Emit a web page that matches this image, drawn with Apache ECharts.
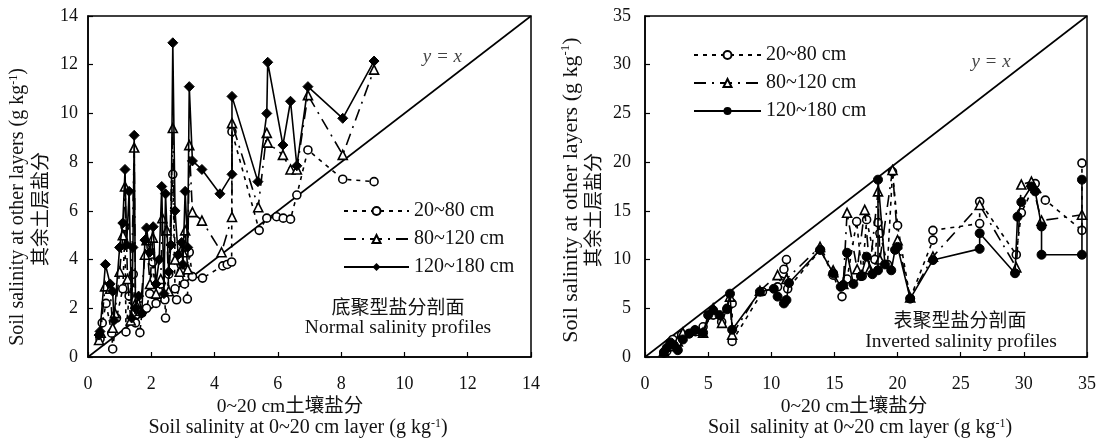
<!DOCTYPE html>
<html><head><meta charset="utf-8">
<script src="https://cdn.jsdelivr.net/npm/echarts@6/dist/echarts.min.js"></script>
<style>html,body{margin:0;padding:0;background:#fff}#c{width:1101px;height:443px}</style>
</head><body><div id="c"></div>
<script>
// ---- Left panel (Normal salinity profiles): [topsoil 0~20 cm, other layer] ----
const leftL20_80 = [[0.38,0.74],[0.45,1.4],[0.57,2.2],[0.75,0.98],[0.78,0.33],[0.9,1.6],[1.1,2.8],[1.17,5.35],[1.2,1.03],[1.3,2.5],[1.43,3.4],[1.5,1.4],[1.64,1.0],[1.7,1.8],[1.85,2.0],[1.95,2.6],[2.05,3.9],[2.15,2.2],[2.3,3.0],[2.43,2.35],[2.45,1.6],[2.55,3.4],[2.68,7.5],[2.75,2.8],[2.8,2.35],[2.95,3.5],[3.05,3.0],[3.14,2.38],[3.2,4.3],[3.3,3.3],[3.62,3.24],[4.26,3.74],[4.4,3.8],[4.54,3.9],[4.55,9.25],[5.41,5.2],[5.65,5.7],[5.96,5.76],[6.17,5.7],[6.4,5.66],[6.6,6.65],[6.95,8.5],[8.05,7.3],[9.04,7.2]];
const leftL80_120 = [[0.35,0.7],[0.4,1.0],[0.54,2.9],[0.7,2.8],[0.78,1.2],[0.85,1.8],[1.0,3.5],[1.1,5.0],[1.17,7.0],[1.25,3.2],[1.35,1.5],[1.46,8.6],[1.5,2.2],[1.65,1.9],[1.8,4.2],[1.85,4.8],[1.96,3.0],[2.05,4.9],[2.15,2.6],[2.3,3.2],[2.35,5.7],[2.49,5.2],[2.55,2.7],[2.68,9.4],[2.75,4.0],[2.9,3.5],[3.0,4.3],[3.07,5.2],[3.15,3.6],[3.2,8.7],[3.3,5.95],[3.6,5.6],[4.22,4.3],[4.55,5.75],[4.55,9.6],[5.38,6.15],[5.65,9.2],[5.68,8.8],[6.16,8.3],[6.4,7.7],[6.6,7.7],[6.95,10.75],[8.05,8.3],[9.04,11.8]];
const leftL120_180 = [[0.35,0.9],[0.38,1.05],[0.55,3.8],[0.7,3.0],[0.78,2.7],[0.82,1.5],[1.0,4.5],[1.1,5.5],[1.17,7.7],[1.22,4.6],[1.3,6.8],[1.38,1.6],[1.42,4.5],[1.46,9.1],[1.5,2.0],[1.6,2.5],[1.7,1.8],[1.8,4.8],[1.85,5.3],[1.95,4.3],[2.06,5.35],[2.15,3.0],[2.25,4.0],[2.33,7.0],[2.4,2.6],[2.45,6.7],[2.55,3.5],[2.62,4.6],[2.68,12.9],[2.75,6.0],[2.85,4.2],[2.96,4.7],[3.0,3.8],[3.07,6.8],[3.15,4.5],[3.2,11.1],[3.3,8.05],[3.6,7.7],[4.17,6.7],[4.55,7.5],[4.55,10.7],[5.37,7.2],[5.65,10.0],[5.68,12.1],[6.16,8.7],[6.4,10.5],[6.6,7.85],[6.95,11.1],[8.05,9.8],[9.04,12.15]];

// ---- Right panel (Inverted salinity profiles) ----
const rightL20_80 = [[1.5,0.4],[1.72,0.6],[2.2,1.8],[2.9,2.26],[3.5,2.4],[4.0,2.6],[4.6,3.1],[5.4,4.3],[6.07,3.6],[6.5,5.0],[6.9,5.5],[6.9,1.6],[9.3,6.7],[10.5,7.2],[11.0,9.0],[11.2,10.0],[11.3,7.0],[13.9,11.0],[14.9,8.4],[15.6,6.2],[16.0,8.0],[16.76,13.9],[17.2,8.3],[17.55,14.1],[18.2,10.0],[18.45,13.8],[18.6,12.7],[19.2,9.5],[19.6,19.0],[20.0,13.5],[21.0,6.0],[22.8,12.0],[22.8,13.0],[26.5,13.7],[26.5,15.95],[29.4,10.5],[29.8,14.8],[30.9,17.8],[31.7,16.1],[34.6,13.0],[34.6,19.9]];
const rightL80_120 = [[1.5,0.6],[2.1,1.1],[2.6,1.6],[3.0,2.5],[3.96,2.7],[4.6,2.5],[5.4,5.0],[6.1,3.5],[6.73,6.2],[6.9,2.3],[9.1,6.8],[10.5,8.4],[11.2,8.0],[13.86,11.3],[14.9,8.9],[15.7,7.5],[16.0,14.8],[16.8,9.0],[17.4,15.1],[17.8,9.0],[18.45,17.0],[18.6,10.0],[19.6,19.2],[20.0,12.0],[21.0,6.1],[22.8,10.3],[26.5,15.6],[29.4,9.2],[29.8,17.7],[30.6,18.0],[31.4,14.0],[34.6,14.6]];
const rightL120_180 = [[1.5,0.5],[1.72,0.92],[2.0,1.5],[2.3,1.2],[2.6,0.7],[3.0,1.8],[3.5,2.4],[3.96,2.77],[4.6,2.5],[5.0,4.3],[5.4,4.8],[5.9,4.3],[6.5,4.9],[6.73,6.5],[6.9,2.8],[9.1,6.7],[10.2,7.0],[10.5,6.2],[11.0,5.5],[11.2,5.85],[11.4,7.6],[13.86,11.0],[14.9,8.6],[15.5,7.2],[15.7,7.4],[16.0,10.7],[16.5,7.5],[17.1,8.3],[17.55,10.3],[18.0,8.5],[18.45,8.9],[18.45,18.2],[19.0,9.5],[19.5,8.9],[19.8,11.0],[20.0,11.3],[21.0,6.0],[22.8,9.95],[26.5,11.1],[26.5,12.7],[29.3,8.6],[29.5,14.4],[29.8,15.9],[30.6,17.5],[30.9,17.0],[31.4,13.4],[31.4,10.5],[34.6,10.5],[34.6,18.2]];

const seriesNames = ['20~80 cm', '80~120 cm', '120~180 cm'];
const leftMax = 14, leftStep = 2;
const rightMax = 35, rightStep = 5;
const leftRef = [[0,0],[14,14]];
const rightRef = [[0,0],[35,35]];
const leftRefLabel = [[11.2,12.3]];
const rightRefLabel = [[27.4,30.3]];

const SERIF = '"Liberation Serif","Times New Roman",serif';
const CJK = '"Noto Sans CJK SC",sans-serif';

function xAxis(grid, max, step) {
  return {
    type:'value', gridIndex:grid, min:0, max:max, interval:step,
    axisLine:{show:true, onZero:false, lineStyle:{color:'#000', width:1.5}},
    axisTick:{show:true, inside:true, length:5, lineStyle:{color:'#000', width:1.2}},
    axisLabel:{color:'#111', fontFamily:SERIF, fontSize:18, margin:18},
    splitLine:{show:false}
  };
}
function yAxis(grid, max, step, margin) {
  return {
    type:'value', gridIndex:grid, min:0, max:max, interval:step,
    axisLine:{show:true, onZero:false, lineStyle:{color:'#000', width:1.5}},
    axisTick:{show:true, inside:true, length:5, lineStyle:{color:'#000', width:1.2}},
    axisLabel:{color:'#111', fontFamily:SERIF, fontSize:18, margin:margin},
    splitLine:{show:false}
  };
}

const styles = [
  {symbol:'circle', symbolSize:8, itemStyle:{color:'#fff', borderColor:'#000', borderWidth:1.6}, lineStyle:{color:'#000', width:1.6, type:[4,5]}},
  {symbol:'triangle', symbolSize:9, itemStyle:{color:'#fff', borderColor:'#000', borderWidth:1.6}, lineStyle:{color:'#000', width:1.6, type:[12,6,2,6]}},
  null
];

function mk(name, data, grid, idx, solidSymbol) {
  const s = styles[idx] || {symbol:solidSymbol, symbolSize: solidSymbol==='diamond'?10:9, itemStyle:{color:'#000', borderColor:'#000'}, lineStyle:{color:'#000', width:1.6, type:'solid'}};
  return Object.assign({type:'line', name:name, data:data, xAxisIndex:grid, yAxisIndex:grid, showAllSymbol:true, animation:false, z: 3+idx}, JSON.parse(JSON.stringify(s)));
}

function txt(text, x, y, font, rot, rich) {
  const st = {text:text, font:font, fill:'#111', align:'center', verticalAlign:'middle'};
  if (rich) st.rich = rich;
  return {type:'text', x:x, y:y, rotation:rot||0, style:st, z:10};
}
const supRich = (fs) => ({
  en:{fontFamily:SERIF, fontSize:fs, fill:'#111'},
  sup:{fontFamily:SERIF, fontSize:Math.round(fs*0.6), fill:'#111', padding:[0,0,Math.round(fs*0.45),0]}
});

const option = {
  backgroundColor:'#fff',
  animation:false,
  grid:[
    {left:88, top:16, width:443, height:341, show:true, borderColor:'#000', borderWidth:1.5, backgroundColor:'transparent'},
    {left:645, top:16, width:442, height:341, show:true, borderColor:'#000', borderWidth:1.5, backgroundColor:'transparent'}
  ],
  xAxis:[xAxis(0,leftMax,leftStep), xAxis(1,rightMax,rightStep)],
  yAxis:[yAxis(0,leftMax,leftStep,10), yAxis(1,rightMax,rightStep,14)],
  legend:[
    {data:seriesNames, orient:'vertical', left:338, top:196, itemWidth:65, itemHeight:10, itemGap:8,
     textStyle:{fontFamily:SERIF, fontSize:20, color:'#111'}, selectedMode:false},
    {data:seriesNames.map(n=>'R'+n), orient:'vertical', left:688, top:40, itemWidth:67, itemHeight:10, itemGap:8,
     formatter:n=>n.slice(1),
     textStyle:{fontFamily:SERIF, fontSize:20, color:'#111'}, selectedMode:false}
  ],
  series:[
    {type:'line', data:leftRef, xAxisIndex:0, yAxisIndex:0, symbol:'none', lineStyle:{color:'#000', width:1.6}, silent:true, z:2},
    {type:'line', data:rightRef, xAxisIndex:1, yAxisIndex:1, symbol:'none', lineStyle:{color:'#000', width:1.6}, silent:true, z:2},
    {type:'scatter', data:leftRefLabel, xAxisIndex:0, yAxisIndex:0, symbolSize:0,
     label:{show:true, position:'inside', formatter:'y = x', fontFamily:SERIF, fontStyle:'italic', fontSize:19, color:'#111'}},
    {type:'scatter', data:rightRefLabel, xAxisIndex:1, yAxisIndex:1, symbolSize:0,
     label:{show:true, position:'inside', formatter:'y = x', fontFamily:SERIF, fontStyle:'italic', fontSize:19, color:'#111'}},
    mk(seriesNames[0], leftL20_80, 0, 0),
    mk(seriesNames[1], leftL80_120, 0, 1),
    mk(seriesNames[2], leftL120_180, 0, 2, 'diamond'),
    mk('R'+seriesNames[0], rightL20_80, 1, 0),
    mk('R'+seriesNames[1], rightL80_120, 1, 1),
    mk('R'+seriesNames[2], rightL120_180, 1, 2, 'circle')
  ],
  graphic:[
    // in-plot captions
    txt('底聚型盐分剖面', 398, 307, '19px "Noto Sans CJK SC"'),
    txt('Normal salinity profiles', 398, 328, '19.5px "Liberation Serif"'),
    txt('表聚型盐分剖面', 960, 320, '19px "Noto Sans CJK SC"'),
    txt('Inverted salinity profiles', 961, 342, '19.5px "Liberation Serif"'),
    // x-axis titles
    txt('0~20 cm土壤盐分', 290, 407, '19.5px "Liberation Serif","Noto Sans CJK SC"'),
    txt('{en|Soil salinity at 0~20 cm layer (g kg}{sup|-1}{en|)}', 298, 428, '20px "Liberation Serif"', 0, supRich(20)),
    txt('0~20 cm土壤盐分', 854, 407, '19.5px "Liberation Serif","Noto Sans CJK SC"'),
    txt('{en|Soil  salinity at 0~20 cm layer (g kg}{sup|-1}{en|)}', 860, 428, '20px "Liberation Serif"', 0, supRich(20)),
    // y-axis titles
    txt('{en|Soil salinity at other layers (g kg}{sup|-1}{en|)}', 18, 207, '20px "Liberation Serif"', Math.PI/2, supRich(20)),
    txt('其余土层盐分', 40, 209, '19px "Noto Sans CJK SC"', Math.PI/2),
    txt('{en|Soil salinity at other layers (g kg}{sup|-1}{en|)}', 571, 190, '22px "Liberation Serif"', Math.PI/2, supRich(22)),
    txt('其余土层盐分', 593, 210, '19px "Noto Sans CJK SC"', Math.PI/2)
  ]
};
const chart = echarts.init(document.getElementById('c'), null, {renderer:'canvas'});
chart.setOption(option);
</script>
</body></html>
